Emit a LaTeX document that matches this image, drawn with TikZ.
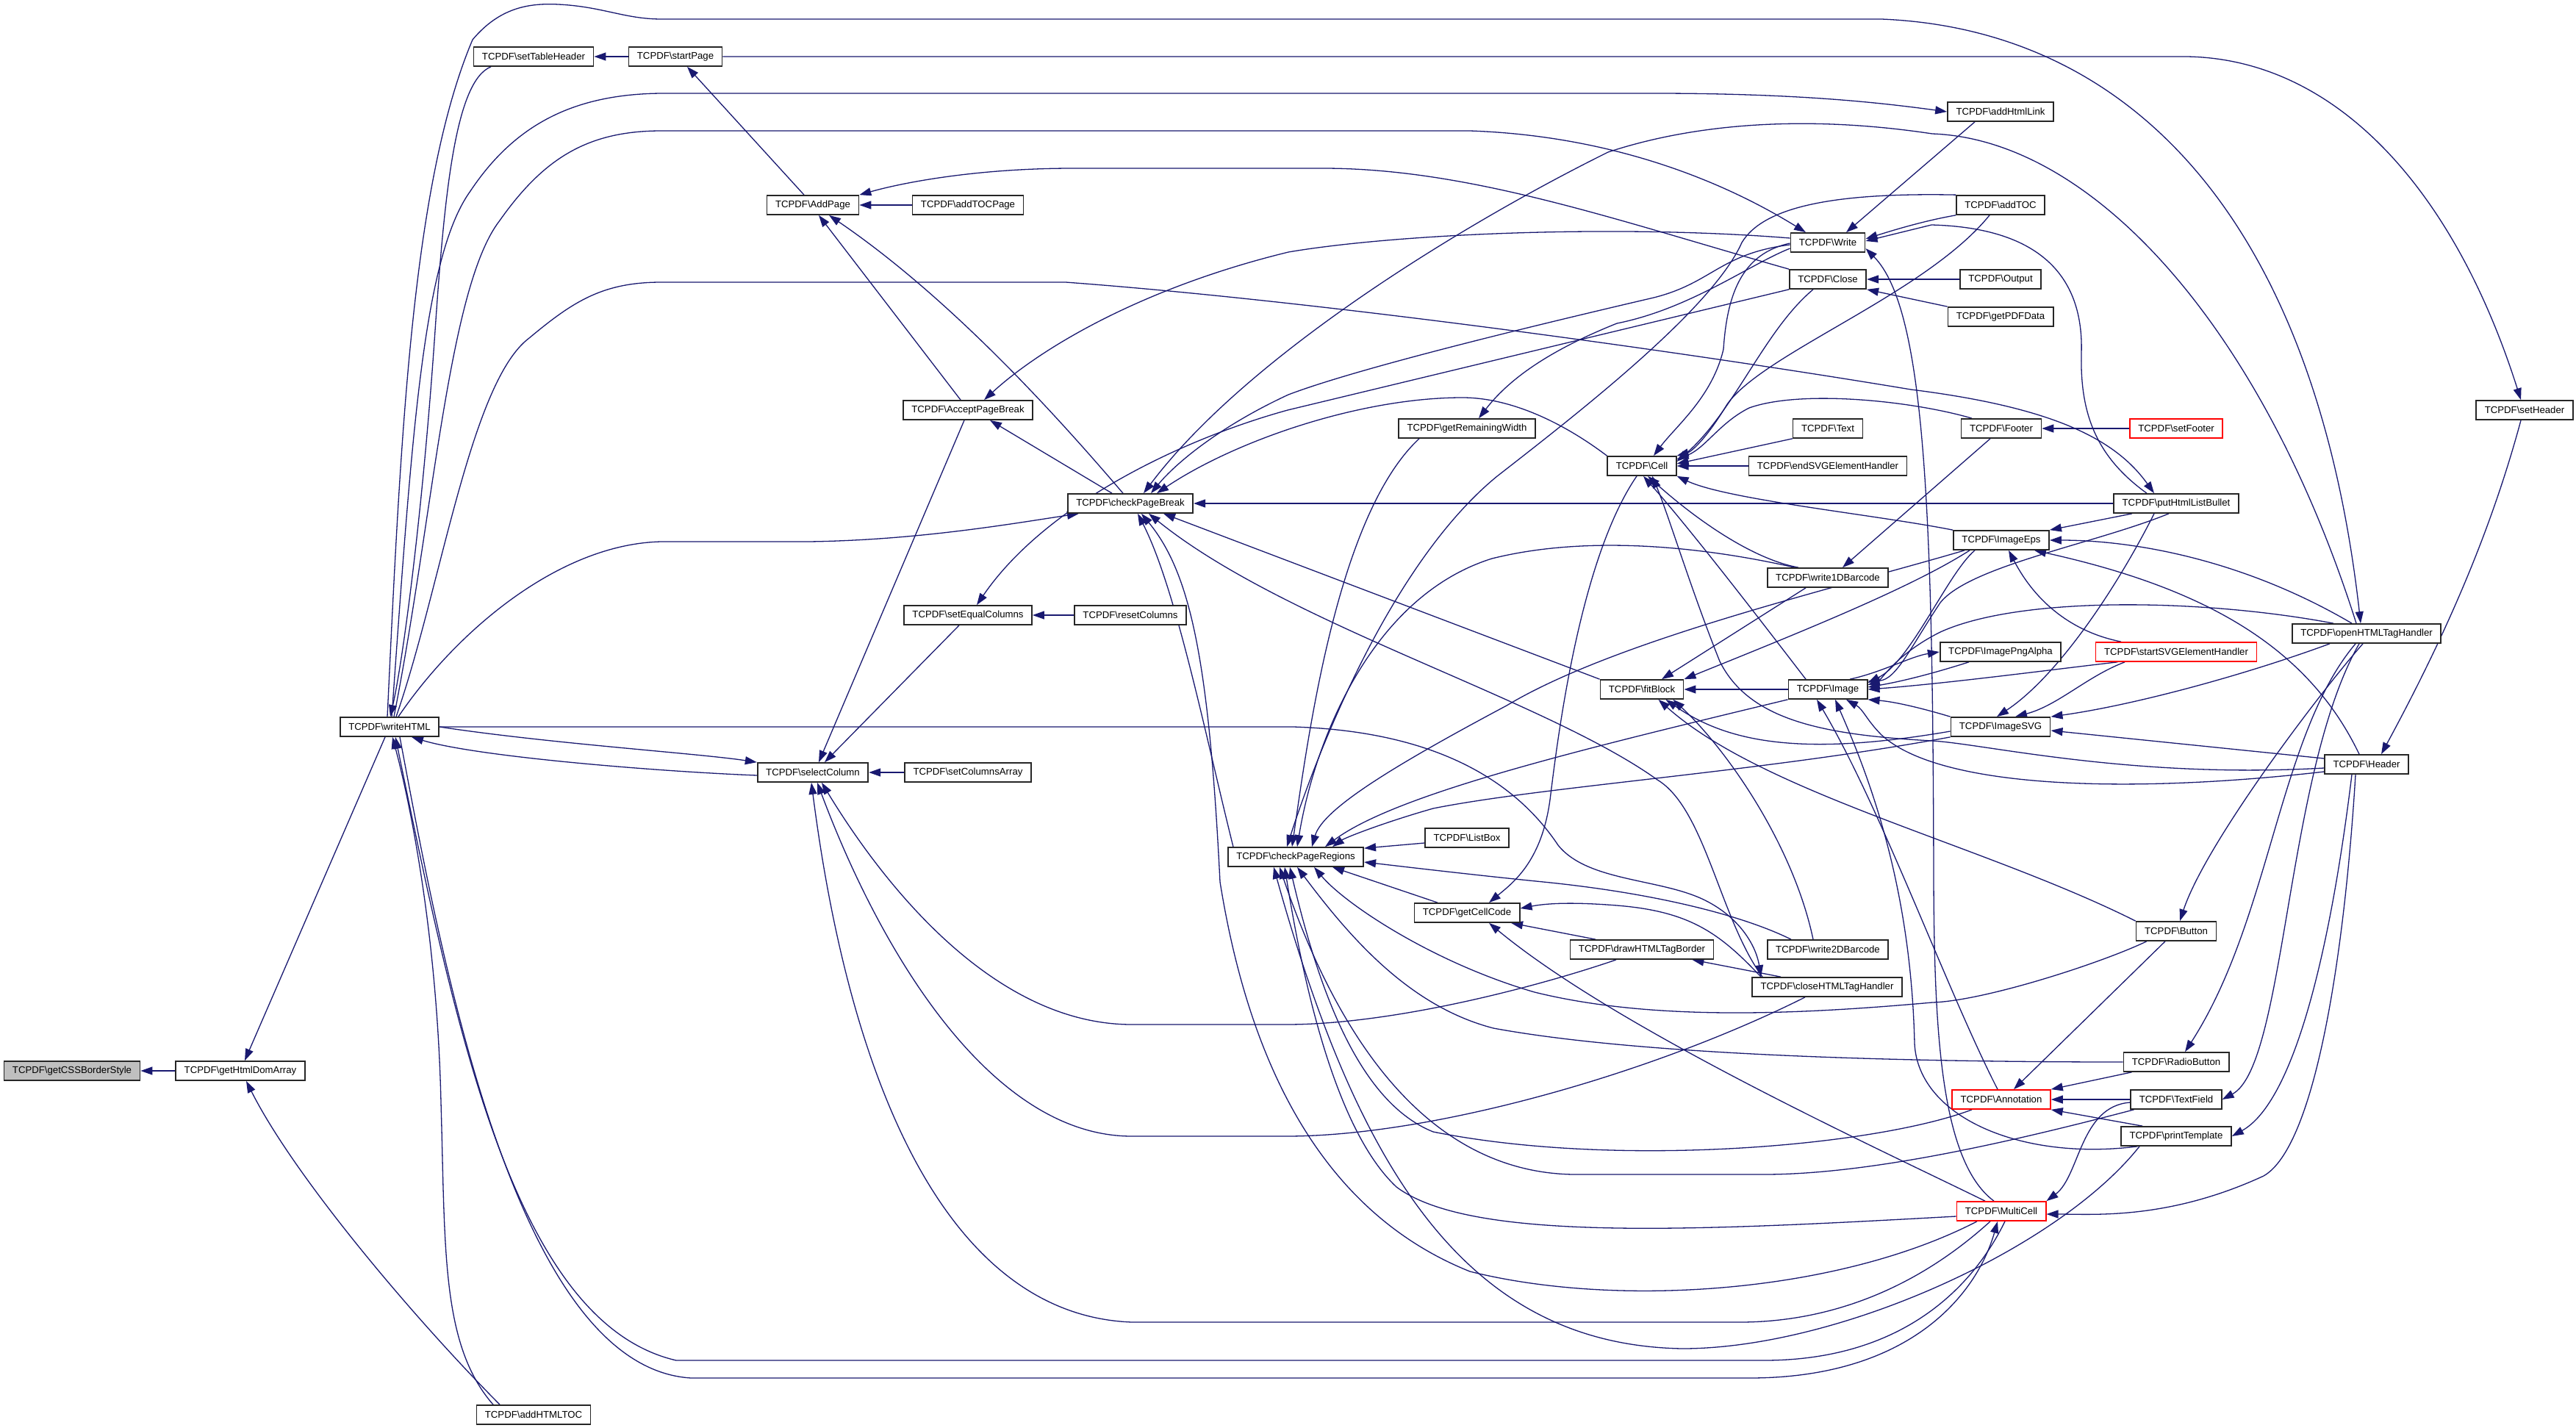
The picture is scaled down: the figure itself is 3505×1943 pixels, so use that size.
\documentclass[tikz,border=0pt]{standalone}
\usepackage{fontspec}
\setmainfont{Liberation Sans}
\usetikzlibrary{arrows.meta}
\pgfdeclarelayer{bg}
\pgfsetlayers{bg,main}
\definecolor{edgec}{HTML}{191970}
\newcommand\bs{\textbackslash}
\newcommand\fnt{\fontsize{13.2}{15}\selectfont}
\tikzset{
  box/.style={draw=black!85, line width=1.7pt, fill=white, font=\fnt, minimum height=26pt, inner xsep=11.5pt, inner ysep=0pt},
  redbox/.style={box, draw=red},
  rootbox/.style={box, fill=black!25},
  ed/.style={draw=edgec, line width=1.3pt, -{Triangle[length=16pt,width=11pt]}},
}
\begin{document}
\begin{tikzpicture}[x=1pt,y=-1pt]
\useasboundingbox (0,0) rectangle (3505,1943);
% nodes
\node[rootbox] (gcss) at (98,1457) {TCPDF\bs getCSSBorderStyle};
\node[box] (gdom) at (327,1457) {TCPDF\bs getHtmlDomArray};
\node[box] (whtml) at (530,989) {TCPDF\bs writeHTML};
\node[box] (ahtoc) at (726,1925) {TCPDF\bs addHTMLTOC};
\node[box] (sth) at (726,77) {TCPDF\bs setTableHeader};
\node[box] (stp) at (919,77) {TCPDF\bs startPage};
\node[box] (addp) at (1106,279) {TCPDF\bs AddPage};
\node[box] (atocp) at (1317,279) {TCPDF\bs addTOCPage};
\node[box] (apb) at (1317,558) {TCPDF\bs AcceptPageBreak};
\node[box] (cpb) at (1538,685) {TCPDF\bs checkPageBreak};
\node[box] (seqc) at (1317,837) {TCPDF\bs setEqualColumns};
\node[box] (resc) at (1538,837) {TCPDF\bs resetColumns};
\node[box] (selc) at (1106,1051) {TCPDF\bs selectColumn};
\node[box] (scola) at (1317,1051) {TCPDF\bs setColumnsArray};
\node[box] (cpr) at (1763,1166) {TCPDF\bs checkPageRegions};
\node[box] (grw) at (1996,583) {TCPDF\bs getRemainingWidth};
\node[box] (lbox) at (1996,1140) {TCPDF\bs ListBox};
\node[box] (gcc) at (1996,1242) {TCPDF\bs getCellCode};
\node[box] (cell) at (2234,634) {TCPDF\bs Cell};
\node[box] (fitb) at (2234,938) {TCPDF\bs fitBlock};
\node[box] (dhtb) at (2234,1292) {TCPDF\bs drawHTMLTagBorder};
\node[box] (write) at (2487,330) {TCPDF\bs Write};
\node[box] (close) at (2487,380) {TCPDF\bs Close};
\node[box] (text) at (2487,583) {TCPDF\bs Text};
\node[box] (esvg) at (2487,634) {TCPDF\bs endSVGElementHandler};
\node[box] (w1d) at (2487,786) {TCPDF\bs write1DBarcode};
\node[box] (image) at (2487,938) {TCPDF\bs Image};
\node[box] (w2d) at (2487,1292) {TCPDF\bs write2DBarcode};
\node[box] (chth) at (2486,1343) {TCPDF\bs closeHTMLTagHandler};
\node[box] (ahl) at (2722,152) {TCPDF\bs addHtmlLink};
\node[box] (atoc) at (2722,279) {TCPDF\bs addTOC};
\node[box] (output) at (2722,380) {TCPDF\bs Output};
\node[box] (gpdf) at (2722,431) {TCPDF\bs getPDFData};
\node[box] (footer) at (2723,583) {TCPDF\bs Footer};
\node[box] (ieps) at (2723,735) {TCPDF\bs ImageEps};
\node[box] (ipng) at (2722,887) {TCPDF\bs ImagePngAlpha};
\node[box] (isvg) at (2722,989) {TCPDF\bs ImageSVG};
\node[redbox] (annot) at (2723,1496) {TCPDF\bs Annotation};
\node[redbox] (mcell) at (2723,1648) {TCPDF\bs MultiCell};
\node[box] (phlb) at (2961,685) {TCPDF\bs putHtmlListBullet};
\node[redbox] (sfoot) at (2961,583) {TCPDF\bs setFooter};
\node[redbox] (ssvg) at (2961,887) {TCPDF\bs startSVGElementHandler};
\node[box] (button) at (2961,1267) {TCPDF\bs Button};
\node[box] (radio) at (2961,1445) {TCPDF\bs RadioButton};
\node[box] (tfield) at (2961,1496) {TCPDF\bs TextField};
\node[box] (ptpl) at (2961,1546) {TCPDF\bs printTemplate};
\node[box] (ohth) at (3220,862) {TCPDF\bs openHTMLTagHandler};
\node[box] (header) at (3220,1040) {TCPDF\bs Header};
\node[box] (shead) at (3435,558) {TCPDF\bs setHeader};
\begin{pgfonlayer}{bg}
\fill[white] (0,0) rectangle (3505,1943);
% left part
\draw[ed] (gdom.west) -- (gcss.east);
\draw[ed] ([xshift=-6pt]whtml.south) -- ([xshift=6pt]gdom.north);
\draw[ed] ([xshift=-46pt]ahtoc.north) .. controls (560,1790) and (400,1600) .. ([xshift=8pt]gdom.south);
\draw[ed] ([xshift=-55pt]ahtoc.north) .. controls (600,1830) and (606,1700) .. (600,1500) .. controls (595,1280) and (560,1100) .. ([xshift=4pt]whtml.south);
\draw[ed] ([xshift=-58pt]sth.south) .. controls (620,110) and (605,260) .. (592,450) .. controls (575,700) and (548,900) .. ([xshift=1pt]whtml.north);
\draw[ed] (stp.west) -- (sth.east);
\draw[ed] (stp.east) -- (2975,77) .. controls (3180,80) and (3340,260) .. ([xshift=-5pt]shead.north);
\draw[ed] ([xshift=-12pt]addp.north) -- ([xshift=16pt]stp.south);
\draw[ed] (atocp.west) -- (addp.east);
\draw[ed] (close.north west) .. controls (2200,300) and (2000,229) .. (1800,229) -- (1460,229) .. controls (1330,229) and (1230,248) .. (addp.north east);
\draw[ed] ([xshift=-10pt]apb.north) -- ([xshift=8pt]addp.south);
\draw[ed] ([xshift=-10pt]cpb.north) .. controls (1450,580) and (1300,410) .. ([xshift=22pt]addp.south);
\draw[ed] ([xshift=-25pt]cpb.north) -- ([xshift=30pt]apb.south);
\draw[ed] ([yshift=6pt]write.west) .. controls (2200,305) and (1900,318) .. (1753,343) .. controls (1560,390) and (1420,470) .. ([xshift=22pt]apb.north);
\draw[ed] ([xshift=-5pt]apb.south) -- ([xshift=8pt]selc.north);
\draw[ed] ([xshift=-12pt]seqc.south) -- ([xshift=16pt]selc.north);
\draw[ed] (resc.west) -- (seqc.east);
\draw[ed] (scola.west) -- (selc.east);
\draw[ed] (close.south west) -- (1752,558) .. controls (1600,600) and (1420,690) .. ([xshift=12pt]seqc.north);
\draw[ed] (whtml.east) .. controls (750,1012) and (950,1025) .. (selc.north west);
\draw[ed] ([yshift=-4pt]selc.west) .. controls (900,1050) and (650,1030) .. ([xshift=30pt]whtml.south);
% writeHTML top routes
\draw[ed] ([xshift=-3pt]whtml.north) .. controls (545,600) and (560,250) .. (643,54) .. controls (680,10) and (720,4) .. (760,6) .. controls (820,9) and (850,26) .. (900,26) -- (2560,26) .. controls (2900,40) and (3150,300) .. ([xshift=-8pt]ohth.north);
\draw[ed] ([xshift=3pt]whtml.north) .. controls (560,600) and (575,350) .. (640,260) .. controls (700,170) and (780,128) .. (900,127) -- (2250,127) .. controls (2450,127) and (2560,140) .. (ahl.west);
\draw[ed] ([xshift=6pt]whtml.north) .. controls (590,700) and (610,390) .. (680,300) .. controls (740,215) and (800,178) .. (900,178) -- (2000,178) .. controls (2200,185) and (2350,250) .. ([xshift=-30pt]write.north);
\draw[ed] ([xshift=9pt]whtml.north) .. controls (600,800) and (640,520) .. (720,460) .. controls (780,410) and (820,384) .. (900,384) -- (1450,384) .. controls (1800,410) and (2300,480) .. (2600,530) .. controls (2800,555) and (2880,600) .. ([xshift=-30pt]phlb.north);
\draw[ed] ([xshift=12pt]whtml.north) .. controls (620,860) and (760,740) .. (900,737) -- (1100,737) .. controls (1250,735) and (1380,712) .. ([xshift=-70pt]cpb.south);
\draw[ed] (whtml.east) -- (1760,989) .. controls (1950,995) and (2060,1060) .. (2120,1150) .. controls (2160,1200) and (2260,1195) .. (2320,1225) .. controls (2370,1250) and (2390,1290) .. ([xshift=-90pt]chth.north);
% writeHTML <-> MultiCell
\draw[ed] ([xshift=5pt]mcell.south) .. controls (2680,1760) and (2580,1851) .. (2400,1851) -- (920,1851) .. controls (700,1800) and (620,1400) .. ([xshift=8pt]whtml.south);
\draw[ed] ([xshift=14pt]whtml.south) .. controls (600,1300) and (700,1860) .. (940,1875) -- (2380,1875) .. controls (2600,1875) and (2690,1760) .. ([xshift=-5pt]mcell.south);
% checkPageBreak
\draw[ed] ([yshift=-3pt]write.west) .. controls (2340,345) and (2330,385) .. (2250,405) .. controls (2100,440) and (1850,500) .. (1753,537) .. controls (1660,580) and (1600,630) .. ([xshift=28pt]cpb.north);
\draw[ed] ([xshift=-14pt]ohth.north) .. controls (3080,450) and (2850,190) .. (2629,182) .. controls (2450,155) and (2300,170) .. (2188,207) .. controls (2000,300) and (1700,480) .. ([xshift=18pt]cpb.north);
\draw[ed] (cell.north west) .. controls (2120,570) and (2050,541) .. (1990,541) .. controls (1850,541) and (1680,600) .. ([xshift=36pt]cpb.north);
\draw[ed] (phlb.west) -- (cpb.east);
\draw[ed] ([xshift=8pt]cpr.north west) .. controls (1640,1000) and (1600,800) .. ([xshift=10pt]cpb.south);
\draw[ed] (fitb.north west) -- ([xshift=45pt]cpb.south);
\draw[ed] ([xshift=-88pt]chth.north) .. controls (2340,1250) and (2320,1100) .. (2255,1061) .. controls (2100,950) and (1750,850) .. ([xshift=25pt]cpb.south);
\draw[ed] ([xshift=-33pt]mcell.south) .. controls (2500,1760) and (2200,1780) .. (2000,1730) .. controls (1800,1650) and (1700,1450) .. (1660,1200) .. controls (1645,900) and (1620,780) .. ([xshift=15pt]cpb.south);
% selectColumn bottom
\draw[ed] ([xshift=-15pt]mcell.south) .. controls (2600,1760) and (2480,1799) .. (2367,1799) -- (1540,1799) .. controls (1300,1790) and (1160,1500) .. ([xshift=-2pt]selc.south);
\draw[ed] ([xshift=-30pt]chth.south) .. controls (2250,1460) and (1950,1546) .. (1750,1546) -- (1540,1546) .. controls (1350,1546) and (1200,1300) .. ([xshift=6pt]selc.south);
\draw[ed] ([xshift=-35pt]dhtb.south) .. controls (2100,1340) and (1900,1394) .. (1750,1394) -- (1540,1394) .. controls (1350,1394) and (1200,1200) .. ([xshift=12pt]selc.south);
% getRemainingWidth & checkPageRegions
\draw[ed] ([yshift=-8pt]write.west) .. controls (2380,360) and (2300,420) .. (2200,440) .. controls (2100,480) and (2050,520) .. ([xshift=16pt]grw.north);
\draw[ed] ([xshift=-65pt]grw.south) .. controls (1820,700) and (1780,1000) .. ([xshift=-5pt]cpr.north);
\draw[ed] ([xshift=-45pt]w1d.north) .. controls (2300,740) and (2150,730) .. (2030,760) .. controls (1870,810) and (1790,1000) .. ([xshift=2pt]cpr.north);
\draw[ed] (image.south west) .. controls (2150,1020) and (1900,1080) .. ([xshift=40pt]cpr.north);
\draw[ed] ([xshift=-50pt]ieps.south) .. controls (2500,800) and (2200,870) .. (2050,960) .. controls (1900,1040) and (1800,1100) .. ([xshift=22pt]cpr.north);
\draw[ed] (isvg.south west) .. controls (2400,1050) and (2100,1070) .. (1950,1100) .. controls (1880,1120) and (1830,1140) .. ([xshift=50pt]cpr.north);
\draw[ed] ([yshift=-7pt]lbox.west) -- ([yshift=-2pt]cpr.north east);
\draw[ed] ([xshift=-40pt]gcc.north) -- ([xshift=50pt]cpr.south);
\draw[ed] ([xshift=-50pt]w2d.north) .. controls (2370,1245) and (2250,1215) .. (2100,1200) .. controls (2000,1190) and (1900,1178) .. ([yshift=-7pt]cpr.east);
\draw[ed] ([xshift=15pt]button.south west) .. controls (2860,1310) and (2700,1362) .. (2629,1364) .. controls (2450,1380) and (2250,1390) .. (2088,1350) .. controls (1950,1310) and (1830,1230) .. ([xshift=25pt]cpr.south);
\draw[ed] ([yshift=-7pt]mcell.west) .. controls (2300,1675) and (2000,1690) .. (1900,1615) .. controls (1820,1540) and (1775,1350) .. ([xshift=-15pt]cpr.south);
\draw[ed] ([xshift=-40pt]annot.south) .. controls (2550,1560) and (2200,1590) .. (1950,1540) .. controls (1850,1500) and (1795,1350) .. ([xshift=-8pt]cpr.south);
\draw[ed] (radio.west) .. controls (2500,1445) and (2200,1430) .. (2032,1399) .. controls (1920,1370) and (1840,1280) .. ([xshift=2pt]cpr.south);
\draw[ed] ([xshift=5pt]tfield.south west) .. controls (2750,1550) and (2550,1598) .. (2400,1598) -- (2150,1598) .. controls (2000,1600) and (1850,1500) .. ([xshift=-22pt]cpr.south);
\draw[ed] ([xshift=-50pt]ptpl.south) .. controls (2800,1700) and (2500,1835) .. (2289,1835) .. controls (2000,1830) and (1850,1600) .. ([xshift=-30pt]cpr.south);
\draw[ed] (atoc.north west) .. controls (2500,262) and (2400,280) .. (2370,330) .. controls (2330,420) and (2150,560) .. (2037,648) .. controls (1900,760) and (1800,1000) .. ([xshift=-12pt]cpr.north);
% getCellCode
\draw[ed] ([xshift=-7pt]cell.south) .. controls (2150,760) and (2120,1000) .. (2110,1080) .. controls (2100,1170) and (2060,1200) .. ([xshift=30pt]gcc.north);
\draw[ed] ([xshift=-63pt]dhtb.north) -- ([xshift=60pt]gcc.south);
\draw[ed] ([xshift=-90pt]chth.north) .. controls (2340,1270) and (2300,1240) .. (2200,1232) .. controls (2150,1228) and (2110,1228) .. ([yshift=6pt]gcc.east);
\draw[ed] ([xshift=-22pt]mcell.north) .. controls (2550,1560) and (2200,1400) .. ([xshift=30pt]gcc.south);
\draw[ed] ([xshift=-63pt]chth.north) -- ([xshift=-30pt]dhtb.south east);
% Cell callers
\draw[ed] ([yshift=-1pt]write.west) .. controls (2370,345) and (2350,400) .. (2345,475) .. controls (2330,540) and (2280,580) .. ([xshift=16pt]cell.north);
\draw[ed] ([xshift=-20pt]close.south) .. controls (2400,450) and (2360,560) .. ([yshift=6pt]cell.east);
\draw[ed] ([xshift=-15pt]atoc.south) .. controls (2620,400) and (2400,480) .. (2350,550) .. controls (2320,600) and (2300,615) .. (cell.north east);
\draw[ed] (text.south west) -- ([yshift=3pt]cell.east);
\draw[ed] (esvg.west) -- (cell.east);
\draw[ed] ([xshift=-40pt]footer.north) .. controls (2600,545) and (2450,530) .. (2380,555) .. controls (2340,575) and (2320,610) .. ([yshift=9pt]cell.east);
\draw[ed] ([xshift=-40pt]w1d.north) .. controls (2380,760) and (2300,700) .. ([xshift=8pt]cell.south);
\draw[ed] ([xshift=-30pt]image.north) .. controls (2400,850) and (2300,720) .. ([xshift=2pt]cell.south);
\draw[ed] (ieps.north west) .. controls (2550,700) and (2350,680) .. (cell.south east);
\draw[ed] ([yshift=-5pt]header.west) .. controls (2900,1060) and (2700,1012) .. (2629,1008) .. controls (2480,1000) and (2380,980) .. (2340,900) .. controls (2300,800) and (2270,700) .. ([xshift=14pt]cell.south);
% Write callers
\draw[ed] ([xshift=-35pt]ahl.south) -- ([xshift=25pt]write.north);
\draw[ed] (atoc.south west) .. controls (2620,300) and (2580,312) .. ([yshift=5pt]write.east);
\draw[ed] ([xshift=-40pt]phlb.north) .. controls (2850,620) and (2830,560) .. (2832,480) .. controls (2835,380) and (2780,310) .. (2628,306) -- ([yshift=2pt]write.east);
\draw[ed] ([xshift=-10pt]mcell.north) .. controls (2640,1580) and (2632,1400) .. (2631,1200) .. controls (2630,700) and (2620,420) .. ([yshift=-8pt]write.east);
% Close, Footer, Header
\draw[ed] (output.west) -- (close.east);
\draw[ed] (gpdf.north west) -- (close.south east);
\draw[ed] (sfoot.west) -- (footer.east);
\draw[ed] ([xshift=-15pt]footer.south) -- ([xshift=20pt]w1d.north);
\draw[ed] ([xshift=-5pt]shead.south) .. controls (3390,720) and (3330,860) .. ([xshift=20pt]header.north);
% fitBlock
\draw[ed] (image.west) -- (fitb.east);
\draw[ed] ([xshift=-30pt]w1d.south) -- ([xshift=27pt]fitb.north);
\draw[ed] ([xshift=-43pt]ieps.south) .. controls (2600,800) and (2450,860) .. (fitb.north east);
\draw[ed] ([yshift=-6pt]isvg.west) .. controls (2450,1030) and (2350,1010) .. ([xshift=-25pt]fitb.south east);
\draw[ed] (button.north west) .. controls (2700,1150) and (2400,1080) .. ([xshift=-35pt]fitb.south east);
\draw[ed] ([xshift=-20pt]w2d.north) .. controls (2440,1150) and (2350,1020) .. ([xshift=-15pt]fitb.south east);
% Image
\draw[ed] ([xshift=-36pt]ieps.south) .. controls (2650,780) and (2600,900) .. ([yshift=9pt]image.east);
\draw[ed] ([xshift=30pt]image.north) .. controls (2560,915) and (2600,893) .. (ipng.west);
\draw[ed] ([xshift=40pt]ipng.south west) .. controls (2650,910) and (2600,925) .. ([yshift=3pt]image.east);
\draw[ed] ([xshift=-80pt]ssvg.south) .. controls (2800,910) and (2650,930) .. (image.east);
\draw[ed] ([xshift=-45pt]ohth.north) .. controls (3000,815) and (2750,810) .. (2640,860) .. controls (2580,890) and (2560,925) .. ([yshift=6pt]image.east);
\draw[ed] ([xshift=-10pt]phlb.south) .. controls (2850,740) and (2680,770) .. (2640,820) .. controls (2600,880) and (2580,925) .. ([yshift=11pt]image.east);
\draw[ed] (isvg.north west) .. controls (2620,965) and (2580,955) .. (image.south east);
\draw[ed] ([yshift=-10pt]header.west) .. controls (2900,1080) and (2640,1074) .. (2560,1000) .. controls (2540,980) and (2535,965) .. ([xshift=25pt]image.south);
\draw[ed] ([xshift=-5pt]annot.north) .. controls (2650,1350) and (2560,1100) .. ([xshift=-15pt]image.south);
\draw[ed] ([xshift=23pt]ptpl.south west) .. controls (2750,1580) and (2610,1520) .. (2605,1420) .. controls (2600,1200) and (2540,1050) .. ([xshift=10pt]image.south);
% ImageEps
\draw[ed] ([xshift=-20pt]ohth.north) .. controls (3050,760) and (2900,735) .. (ieps.east);
\draw[ed] ([xshift=-10pt]header.north) .. controls (3140,880) and (3000,800) .. ([xshift=45pt]ieps.south);
\draw[ed] ([xshift=-75pt]ssvg.north) .. controls (2820,860) and (2770,820) .. ([xshift=10pt]ieps.south);
\draw[ed] ([xshift=-60pt]phlb.south) -- (ieps.north east);
% ImageSVG
\draw[ed] ([xshift=-50pt]ohth.south) .. controls (3050,920) and (2900,960) .. (isvg.north east);
\draw[ed] ([yshift=8pt]header.west) -- ([yshift=-5pt]isvg.east);
\draw[ed] ([xshift=-70pt]ssvg.south) .. controls (2840,920) and (2800,960) .. ([xshift=20pt]isvg.north);
\draw[ed] ([xshift=-30pt]phlb.south) .. controls (2880,800) and (2800,920) .. ([xshift=-5pt]isvg.north);
% forms
\draw[ed] ([xshift=-5pt]ohth.south) .. controls (3150,950) and (3000,1150) .. ([xshift=5pt]button.north);
\draw[ed] ([xshift=-15pt]ohth.south) .. controls (3100,1000) and (3090,1250) .. ([xshift=12pt]radio.north);
\draw[ed] ([xshift=-10pt]ohth.south) .. controls (3110,1050) and (3110,1450) .. (tfield.east);
\draw[ed] ([xshift=-20pt]header.south) .. controls (3170,1300) and (3120,1500) .. (ptpl.east);
\draw[ed] ([xshift=-15pt]header.south) .. controls (3190,1300) and (3150,1560) .. (3080,1600) .. controls (2950,1660) and (2850,1652) .. ([yshift=-4pt]mcell.east);
\draw[ed] ([xshift=-15pt]button.south) -- ([xshift=17pt]annot.north);
\draw[ed] ([xshift=12pt]radio.south west) -- (annot.north east);
\draw[ed] (tfield.west) -- (annot.east);
\draw[ed] ([xshift=30pt]ptpl.north west) -- (annot.south east);
\draw[ed] ([yshift=-4pt]tfield.west) .. controls (2830,1505) and (2830,1600) .. (mcell.north east);
\end{pgfonlayer}
\end{tikzpicture}
\end{document}
